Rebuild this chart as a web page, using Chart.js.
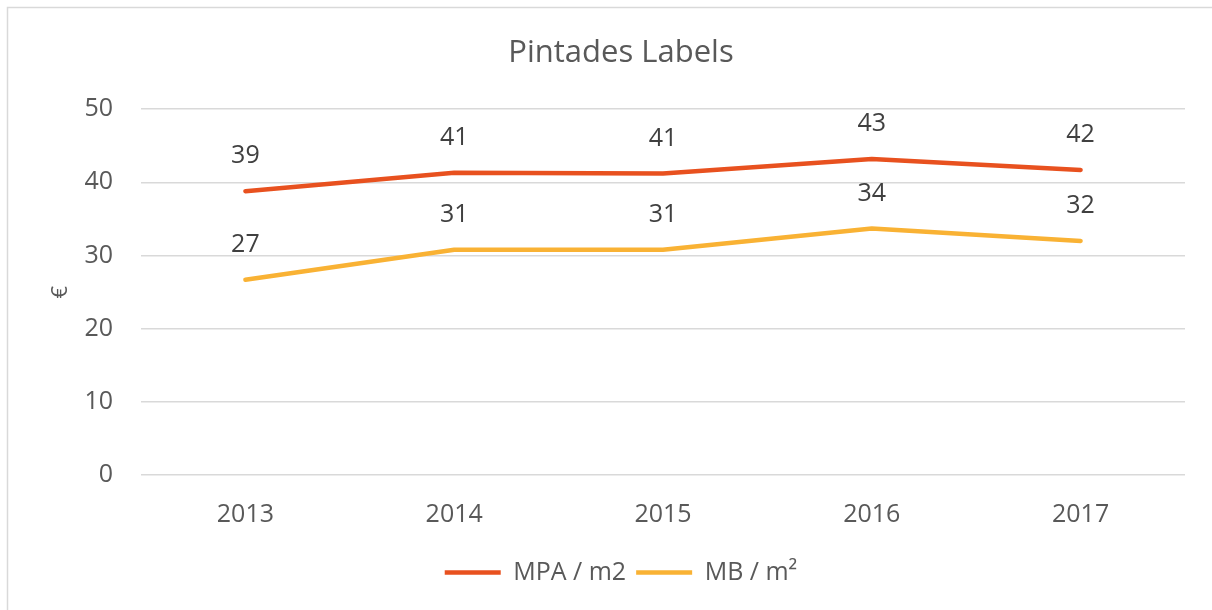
<!doctype html>
<html>
<head>
    <title>Pintades Labels</title>
    <script src="https://cdn.jsdelivr.net/npm/chart.js@4.4.0/dist/chart.umd.min.js"></script>
    <style>
    html, body { margin: 0; padding: 0; background: #fff; overflow: hidden; }
    #canvas-holder { width: 1212px; height: 610px; }
    </style>
</head>
<body>
<div id="canvas-holder"><canvas id="chart-area"></canvas></div>
<script>
    // data
    var years = ['2013', '2014', '2015', '2016', '2017'];
    var mpaValues = [38.8, 41.3, 41.2, 43.2, 41.7];
    var mbValues = [26.7, 30.8, 30.8, 33.7, 32.0];
    var seriesNames = ['MPA / m2', 'MB / m\u00b2'];
    var yMin = 0, yMax = 50, yStep = 10;

    var textGrey = '#595959';
    var fontName = '"Open Sans", "Noto Sans", sans-serif';

    // outer frame like the office chart border (only top and left show)
    var frame = {
        id: 'frame',
        beforeDraw: function(chart) {
            var c = chart.ctx;
            c.save();
            c.fillStyle = '#fff';
            c.fillRect(0, 0, chart.width, chart.height);
            c.strokeStyle = '#d9d9d9';
            c.lineWidth = 1.5;
            c.beginPath();
            c.moveTo(7.5, chart.height);
            c.lineTo(7.5, 7.5);
            c.lineTo(chart.width, 7.5);
            c.stroke();
            c.restore();
        }
    };

    // rounded value above each point
    var valueLabels = {
        id: 'valueLabels',
        afterDatasetsDraw: function(chart) {
            var c = chart.ctx;
            c.save();
            c.font = '25px ' + fontName;
            c.fillStyle = '#404040';
            c.textAlign = 'center';
            c.textBaseline = 'middle';
            chart.data.datasets.forEach(function(ds, i) {
                chart.getDatasetMeta(i).data.forEach(function(pt, j) {
                    c.fillText(Math.round(ds.data[j]), pt.x, pt.y - 35);
                });
            });
            c.restore();
        }
    };

    var config = {
        type: 'line',
        data: {
            labels: years,
            datasets: [{
                label: seriesNames[0],
                data: mpaValues,
                borderColor: '#e8511f',
                backgroundColor: '#e8511f',
                borderWidth: 4.5,
                borderCapStyle: 'round',
                borderJoinStyle: 'round',
                pointRadius: 0,
                tension: 0
            }, {
                label: seriesNames[1],
                data: mbValues,
                borderColor: '#f9b234',
                backgroundColor: '#f9b234',
                borderWidth: 4.5,
                borderCapStyle: 'round',
                borderJoinStyle: 'round',
                pointRadius: 0,
                tension: 0
            }]
        },
        options: {
            responsive: true,
            maintainAspectRatio: false,
            animation: false,
            layout: { padding: { top: 7, left: 57, right: 27, bottom: 15 } },
            plugins: {
                title: {
                    display: true,
                    text: 'Pintades Labels',
                    color: textGrey,
                    font: { family: fontName, size: 31, weight: 'normal' },
                    padding: { top: 28, bottom: 37 }
                },
                legend: {
                    position: 'bottom',
                    labels: {
                        usePointStyle: true,
                        pointStyle: 'line',
                        pointStyleWidth: 56,
                        color: textGrey,
                        font: { family: fontName, size: 25 },
                        padding: 10
                    }
                },
                tooltip: { enabled: false }
            },
            scales: {
                x: {
                    offset: true,
                    grid: { display: false },
                    border: { display: false },
                    ticks: {
                        color: textGrey,
                        font: { family: fontName, size: 25 },
                        padding: 17,
                        maxRotation: 0
                    },
                    afterFit: function(scale) { scale.height = 75; }
                },
                y: {
                    min: yMin,
                    max: yMax,
                    grid: { color: '#d9d9d9', lineWidth: 1.5, drawTicks: false },
                    border: { display: false },
                    ticks: {
                        stepSize: yStep,
                        color: textGrey,
                        font: { family: fontName, size: 25 },
                        padding: 28
                    },
                    title: {
                        display: true,
                        text: '\u20ac',
                        color: textGrey,
                        font: { family: fontName, size: 22 },
                        padding: { top: -9, bottom: 0 }
                    },
                    afterFit: function(scale) { scale.width = 84; }
                }
            }
        },
        plugins: [frame, valueLabels]
    };

    window.onload = function() {
        var ctx = document.getElementById('chart-area').getContext('2d');
        window.myLine = new Chart(ctx, config);
    };
</script>
</body>
</html>
